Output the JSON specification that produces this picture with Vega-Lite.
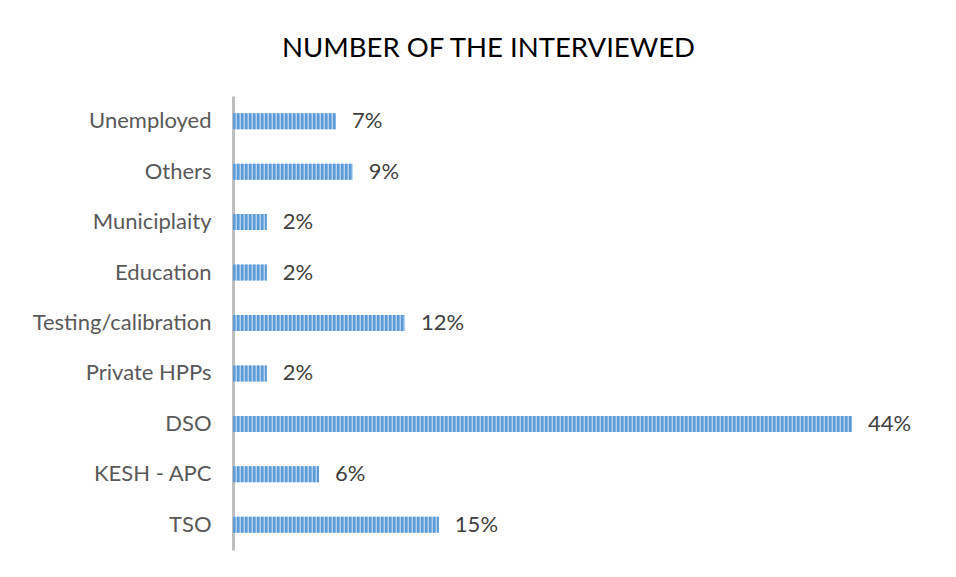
{
  "$schema": "https://vega.github.io/schema/vega-lite/v6.json",
  "width": 705,
  "height": 454,
  "autosize": {"type": "none"},
  "padding": {"left": 233, "top": 96, "right": 18, "bottom": 27},
  "background": "white",
  "title": {
    "text": "NUMBER OF THE INTERVIEWED",
    "anchor": "middle",
    "dx": -97,
    "offset": 6,
    "font": "Lato",
    "fontSize": 27.5,
    "fontWeight": "normal",
    "color": "#000000",
    "baseline": "bottom"
  },
  "data": {
    "values": [
      {"category": "Unemployed", "value": 0.073},
      {"category": "Others", "value": 0.085},
      {"category": "Municiplaity", "value": 0.024},
      {"category": "Education", "value": 0.024},
      {"category": "Testing/calibration", "value": 0.122},
      {"category": "Private HPPs", "value": 0.024},
      {"category": "DSO", "value": 0.439},
      {"category": "KESH - APC", "value": 0.061},
      {"category": "TSO", "value": 0.146}
    ]
  },
  "encoding": {
    "y": {
      "field": "category",
      "type": "nominal",
      "sort": null,
      "scale": {"paddingInner": 0.68, "paddingOuter": 0.34},
      "axis": {
        "title": null,
        "ticks": false,
        "domainColor": "#bfbfbf",
        "domainWidth": 3,
        "labelFont": "Lato",
        "labelFontSize": 22,
        "labelColor": "#595959",
        "labelPadding": 22,
        "labelLimit": 300
      }
    },
    "x": {
      "field": "value",
      "type": "quantitative",
      "scale": {"domain": [0, 0.5], "nice": false},
      "axis": null
    }
  },
  "layer": [
    {"mark": {"type": "bar", "color": "#b4d0ee", "height": 16}},
    {
      "mark": {"type": "rule", "color": "#5b9bd5", "strokeWidth": 16, "strokeDash": [2.5, 1.5], "strokeCap": "butt"},
      "encoding": {"x": {"datum": 0}, "x2": {"field": "value"}}
    },
    {
      "mark": {"type": "text", "align": "left", "dx": 16, "font": "Lato", "fontSize": 22, "color": "#404040"},
      "encoding": {"text": {"field": "value", "type": "quantitative", "format": ".0%"}}
    }
  ],
  "config": {"view": {"stroke": null}}
}
